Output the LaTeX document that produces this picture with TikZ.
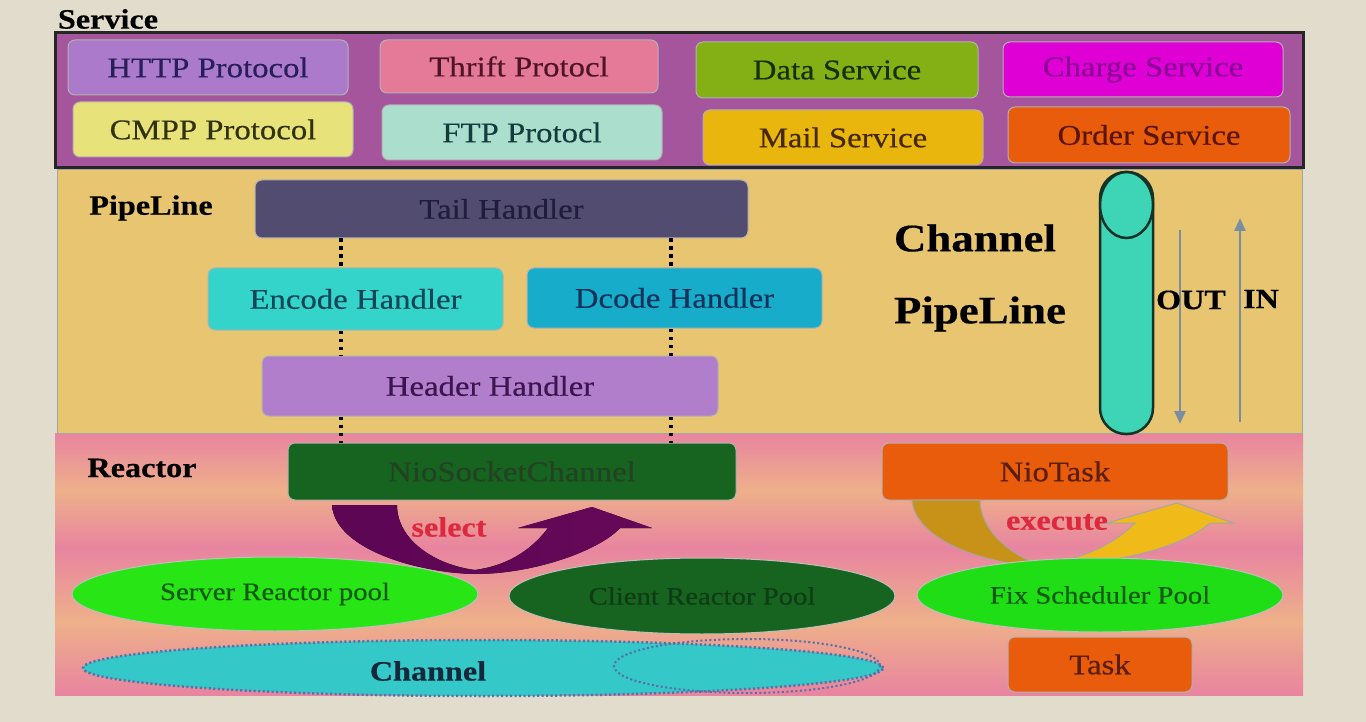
\documentclass[tikz,border=0pt]{standalone}
\usepackage{fontspec}
\setmainfont[FakeStretch=1.15,FakeBold=0.4]{Liberation Serif}
\usepackage{tikz}
\usetikzlibrary{arrows.meta,shapes.geometric}

\definecolor{bgc}{RGB}{226,220,204}
\definecolor{svcc}{RGB}{165,85,155}
\definecolor{pipec}{RGB}{232,197,112}
\definecolor{pinkc}{RGB}{232,132,160}
\definecolor{peachc}{RGB}{238,176,138}
\definecolor{httpc}{RGB}{172,122,202}
\definecolor{thriftc}{RGB}{228,122,152}
\definecolor{cmppc}{RGB}{232,226,122}
\definecolor{ftpc}{RGB}{172,222,206}
\definecolor{datac}{RGB}{132,176,22}
\definecolor{chargec}{RGB}{222,0,212}
\definecolor{mailc}{RGB}{232,182,12}
\definecolor{orangec}{RGB}{232,92,12}
\definecolor{tailc}{RGB}{82,76,112}
\definecolor{encc}{RGB}{52,212,202}
\definecolor{decc}{RGB}{22,172,202}
\definecolor{headc}{RGB}{176,126,202}
\definecolor{niogc}{RGB}{22,100,32}
\definecolor{brightg}{RGB}{40,230,22}
\definecolor{fixg}{RGB}{32,222,22}
\definecolor{chanc}{RGB}{52,200,200}
\definecolor{pipefill}{RGB}{62,212,182}
\definecolor{flowc}{RGB}{122,142,162}
\definecolor{selc}{RGB}{102,8,88}
\definecolor{selc2}{RGB}{92,6,84}
\definecolor{exec1}{RGB}{200,146,24}
\definecolor{exec2}{RGB}{240,186,24}
\definecolor{redtx}{RGB}{222,40,62}

\begin{document}
\begin{tikzpicture}[x=1pt, y=-1pt,
    box/.style={draw=black!30, line width=1pt, rounded corners=7pt, inner sep=0pt,
        font=\fontsize{28.5}{32}\selectfont},
    sz/.style 2 args={minimum width=#1pt, minimum height=#2pt},
    pool/.style={ellipse, draw=black!25, line width=1pt, inner sep=0pt,
        font=\fontsize{25}{28}\selectfont},
    lbl/.style={font=\bfseries\fontsize{28}{32}\selectfont},
    big/.style={font=\bfseries\fontsize{39}{42}\selectfont},
    dots/.style={line width=3.5pt, dash pattern=on 3.5pt off 4.5pt},
    flow/.style={draw=flowc, line width=2.5pt, -{Triangle[length=13pt,width=11pt]}}]

    \fill[bgc] (0,0) rectangle (1366,722);
    \useasboundingbox (0,0) rectangle (1366,722);

    % bands
    \fill[top color=pinkc, bottom color=pinkc, middle color=peachc] (55,433) rectangle (1303,548);
    \fill[top color=pinkc, bottom color=pinkc, middle color=peachc] (55,548) rectangle (1303,695);
    \draw[fill=pipec, draw=black!35, line width=1pt] (57,170) rectangle (1302,433);
    \draw[fill=svcc, draw=black!85, line width=3pt] (55,33) rectangle (1303,168);

    \node[lbl] (service) at (108,19) {Service};

    \node[box, sz={280}{55}, fill=httpc, text={rgb,255:red,40;green,30;blue,90}] (http) at (208,67.5) {HTTP Protocol};
    \node[box, sz={278}{53}, fill=thriftc, text={rgb,255:red,80;green,20;blue,40}] (thrift) at (519,66.5) {Thrift Protocl};
    \node[box, sz={280}{55}, fill=cmppc, text={rgb,255:red,50;green,50;blue,10}] (cmpp) at (213,129.5) {CMPP Protocol};
    \node[box, sz={280}{55}, fill=ftpc, text={rgb,255:red,20;green,60;blue,60}] (ftp) at (522,132.5) {FTP Protocl};
    \node[box, sz={282}{56}, fill=datac, text={rgb,255:red,20;green,50;blue,10}] (data) at (837,70) {Data Service};
    \node[box, sz={280}{55}, fill=chargec, text={rgb,255:red,140;green,0;blue,150}] (charge) at (1143,69.5) {Charge Service};
    \node[box, sz={280}{55}, fill=mailc, text={rgb,255:red,70;green,40;blue,0}] (mail) at (843,137.5) {Mail Service};
    \node[box, sz={282}{56}, fill=orangec, text={rgb,255:red,90;green,20;blue,0}] (order) at (1149,135) {Order Service};

    \node[lbl] (pipelbl) at (151,208) {PipeLine};
    \node[box, sz={493}{58}, fill=tailc, text={rgb,255:red,30;green,30;blue,60}] (tail) at (501.5,209) {Tail Handler};
    \node[box, sz={295}{62}, fill=encc, text={rgb,255:red,20;green,70;blue,90}] (encode) at (355.5,299) {Encode Handler};
    \node[box, sz={295}{60}, fill=decc, text={rgb,255:red,20;green,50;blue,90}] (dcode) at (674.5,298) {Dcode Handler};
    \node[box, sz={456}{60}, fill=headc, text={rgb,255:red,60;green,20;blue,80}] (header) at (490,386) {Header Handler};

    \node[lbl] (reactor) at (142,468) {Reactor};
    \node[box, sz={448}{57}, fill=niogc, text={rgb,255:red,35;green,65;blue,35}] (nio) at (512,471.5) {NioSocketChannel};
    \node[box, sz={346}{57}, fill=orangec, text={rgb,255:red,90;green,30;blue,10}] (niotask) at (1055,471.5) {NioTask};

    \coordinate (dl) at (341,0);
    \coordinate (dr) at (671,0);
    \draw[dots] (tail.south -| dl) -- (encode.north -| dl);
    \draw[dots] (tail.south -| dr) -- (dcode.north -| dr);
    \draw[dots] (encode.south -| dl) -- (header.north -| dl);
    \draw[dots] (dcode.south -| dr) -- (header.north -| dr);
    \draw[dots] (header.south -| dl) -- (nio.north -| dl);
    \draw[dots] (header.south -| dr) -- (nio.north -| dr);

    % channel pipe
    \node[big] (chbig) at (975,238) {Channel};
    \node[big] (plbig) at (980,314) {PipeLine};
    \draw[fill=pipefill, draw={rgb,255:red,20;green,50;blue,40}, line width=2.5pt, rounded corners=26pt]
        (1100,172) rectangle (1153,434);
    \draw[fill=pipefill, draw={rgb,255:red,20;green,50;blue,40}, line width=2.5pt]
        (1126.5,205) ellipse [x radius=26.5, y radius=33];
    \coordinate (outtop) at (1180,230);
    \coordinate (outbot) at (1180,424);
    \coordinate (inbot) at (1240,422);
    \coordinate (intop) at (1240,218);
    \draw[flow] (outtop) -- (outbot);
    \draw[flow] (inbot) -- (intop);
    \node[lbl] (out) at (1191,300) {OUT};
    \node[lbl] (in) at (1261,299) {IN};

    % select / execute
    \fill[left color=selc2, right color=selc] (332,505) .. controls (335,550) and (420,573) .. (475,574)
        .. controls (535,574) and (600,550) .. (620,528) -- (652,528) -- (592,507) -- (518,528) -- (548,528)
        .. controls (530,552) and (505,566) .. (475,570) .. controls (435,565) and (397,540) .. (397,505) -- cycle;
    \node[lbl, text=redtx] (select) at (449,527) {select};
    \draw[fill=exec1, draw=black!35, line width=1pt]
        (912,500) .. controls (915,540) and (985,565) .. (1042,566) .. controls (1010,555) and (980,530) .. (980,500) -- cycle;
    \node[lbl, text=redtx] (execute) at (1057,522) {execute};
    \draw[fill=exec2, draw=black!35, line width=1pt]
        (1030,566) .. controls (1120,566) and (1185,545) .. (1210,523) -- (1233,523) -- (1177,503) -- (1107,523) -- (1135,523)
        .. controls (1110,548) and (1075,562) .. (1030,566) -- cycle;

    % pools
    \node[pool, sz={406}{74}, fill=brightg, text={rgb,255:red,20;green,90;blue,20}] (server) at (275,594) {Server Reactor pool};
    \node[pool, sz={386}{76}, fill=niogc, text={rgb,255:red,15;green,60;blue,20}] (client) at (702,596) {Client Reactor Pool};
    \node[pool, sz={366}{74}, fill=fixg, text={rgb,255:red,20;green,90;blue,20}] (fix) at (1100,595) {Fix Scheduler Pool};
    \node[ellipse, sz={800}{56}, fill=chanc, draw={rgb,255:red,90;green,110;blue,170}, line width=2.5pt,
        dash pattern=on 2pt off 2.5pt] (chan) at (483,668) {};
    \node[ellipse, sz={266}{54}, draw={rgb,255:red,90;green,110;blue,170}, line width=2pt,
        dash pattern=on 2pt off 2.5pt] (chan2) at (747,666) {};
    \node[lbl, text={rgb,255:red,20;green,40;blue,60}] (chanlbl) at (428,671) {Channel};
    \node[box, sz={184}{55}, fill=orangec, text={rgb,255:red,90;green,30;blue,10}] (task) at (1100,664.5) {Task};
\end{tikzpicture}
\end{document}
